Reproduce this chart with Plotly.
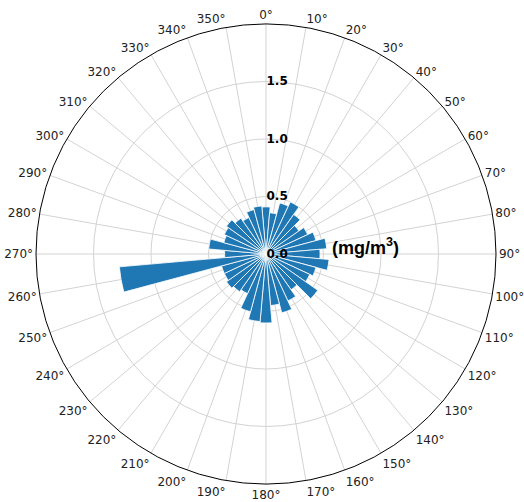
import plotly.graph_objects as go

# Direction bins (degrees, clockwise from north) and mean concentration per bin
directions = list(range(0, 360, 10))
concentration = [
    0.41, 0.36, 0.46, 0.50, 0.42, 0.35, 0.40, 0.45, 0.53, 0.47,
    0.55, 0.45, 0.42, 0.55, 0.38, 0.45, 0.53, 0.45, 0.60, 0.59,
    0.52, 0.38, 0.40, 0.42, 0.40, 0.40, 1.28, 0.36, 0.50, 0.38,
    0.40, 0.42, 0.38, 0.35, 0.40, 0.42,
]
radial_ticks = [0.0, 0.5, 1.0, 1.5]
radial_labels = ["0.0", "0.5", "1.0", "1.5"]
angle_ticks = list(range(0, 360, 10))
angle_labels = [f"{a}°" for a in angle_ticks]

fig = go.Figure(
    go.Barpolar(
        r=concentration,
        theta=directions,
        width=[10] * len(directions),
        marker=dict(color="#1f77b4", line=dict(color="white", width=0.8)),
    )
)

fig.update_layout(
    width=524,
    height=502,
    margin=dict(l=36, r=28, t=24, b=18),
    paper_bgcolor="white",
    showlegend=False,
    font=dict(family="DejaVu Sans", size=12, color="#222222"),
    polar=dict(
        bgcolor="white",
        radialaxis=dict(
            range=[0, 2.0],
            tickvals=radial_ticks,
            ticktext=[f"<b>{t}</b>" for t in radial_labels],
            angle=90,
            tickangle=90,
            showline=False,
            ticks="",
            gridcolor="#d3d3d3",
            gridwidth=0.8,
            tickfont=dict(family="DejaVu Sans", size=12, color="black"),
        ),
        angularaxis=dict(
            rotation=90,
            direction="clockwise",
            tickvals=angle_ticks,
            ticktext=angle_labels,
            ticks="",
            showline=True,
            linecolor="black",
            linewidth=1,
            gridcolor="#d3d3d3",
            gridwidth=0.8,
            tickfont=dict(family="DejaVu Sans", size=12, color="#222222"),
        ),
    ),
    annotations=[
        dict(
            text="<b>(mg/m<sup>3</sup>)</b>",
            x=(330 - 36) / 460,
            y=(502 - 18 - 246) / 460,
            xref="paper",
            yref="paper",
            xanchor="left",
            yanchor="middle",
            showarrow=False,
            font=dict(family="Liberation Sans", size=18, color="black"),
        )
    ],
)

fig.write_html("out.html")
